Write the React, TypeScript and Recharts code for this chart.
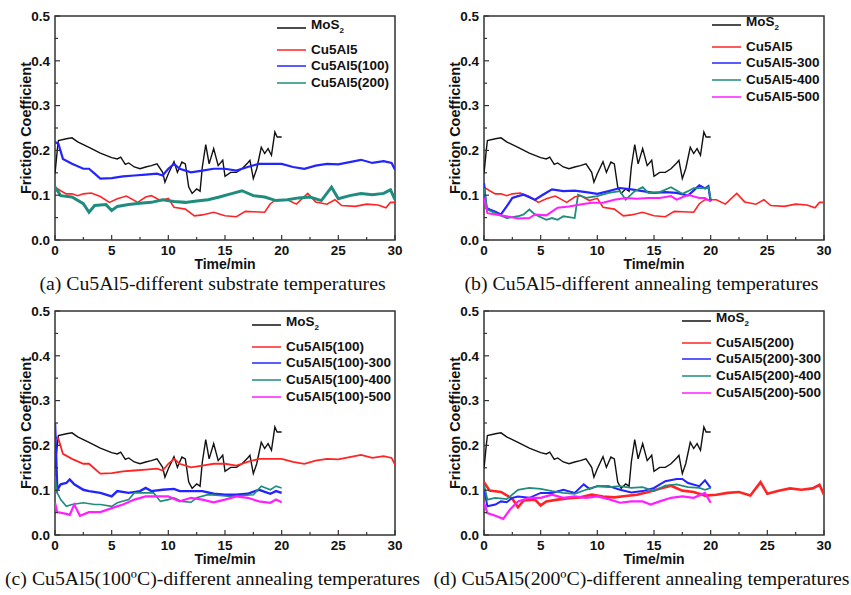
import React from "react";
import { LineChart, Line, XAxis, YAxis, ReferenceArea } from "recharts";

type Pt = [number, number];

// time (min), friction coefficient
const mos2: Pt[] = [
  [0, 0.148], [0.2, 0.2], [0.3, 0.222], [1, 0.226], [1.5, 0.228], [2, 0.219], [3, 0.207], [4, 0.194],
  [5, 0.184], [5.5, 0.181], [5.8, 0.185], [6.2, 0.169], [6.5, 0.172], [7, 0.163], [7.5, 0.159], [8, 0.163],
  [8.5, 0.166], [9, 0.17], [9.5, 0.151], [9.7, 0.129], [10, 0.148], [10.5, 0.175], [10.8, 0.151], [11.2, 0.174],
  [11.5, 0.17], [11.8, 0.118], [12.1, 0.104], [12.5, 0.114], [12.8, 0.109], [13, 0.163], [13.3, 0.213], [13.6, 0.17],
  [14, 0.204], [14.4, 0.166], [14.8, 0.178], [15, 0.142], [15.5, 0.151], [16, 0.151], [16.5, 0.159], [17, 0.172],
  [17.2, 0.178], [17.5, 0.137], [17.8, 0.159], [18.2, 0.207], [18.5, 0.193], [18.8, 0.204], [19.1, 0.189], [19.4, 0.241],
  [19.6, 0.23], [20, 0.23],
];

const cu5al5: Pt[] = [
  [0, 0.118], [0.5, 0.11], [1, 0.103], [1.5, 0.103], [2, 0.099], [2.5, 0.103], [3.2, 0.105], [4, 0.097],
  [4.8, 0.084], [5.5, 0.092], [6.3, 0.098], [7.3, 0.084], [8, 0.096], [8.5, 0.099], [9.3, 0.088], [10, 0.093],
  [10.5, 0.073], [11.5, 0.069], [12.3, 0.054], [13, 0.056], [14, 0.062], [15, 0.054], [16, 0.052], [16.8, 0.064],
  [17.5, 0.063], [18.5, 0.062], [19, 0.081], [19.5, 0.09], [20.5, 0.09], [21.3, 0.08], [22.3, 0.104], [23, 0.085],
  [24, 0.08], [24.7, 0.09], [25.3, 0.077], [26.5, 0.075], [27.5, 0.08], [28.5, 0.078], [29.2, 0.072], [29.6, 0.084],
  [30, 0.084],
];

const cu5al5_100: Pt[] = [
  [0, 0.219], [0.3, 0.215], [0.7, 0.181], [1.5, 0.17], [2.5, 0.159], [3, 0.159], [3.5, 0.148], [4, 0.137],
  [5, 0.138], [6, 0.142], [7, 0.144], [8, 0.146], [9, 0.148], [9.5, 0.144], [10, 0.159], [10.5, 0.17],
  [11, 0.159], [12, 0.151], [13, 0.155], [14, 0.159], [15, 0.159], [16, 0.155], [17, 0.163], [18, 0.17],
  [19, 0.17], [20, 0.17], [21, 0.163], [22, 0.159], [23, 0.166], [24, 0.17], [25, 0.169], [26, 0.174],
  [27, 0.179], [28, 0.172], [29, 0.176], [29.7, 0.172], [30, 0.157],
];

const cu5al5_200: Pt[] = [
  [0, 0.118], [0.5, 0.099], [1.5, 0.096], [2.5, 0.081], [3, 0.062], [3.5, 0.077], [4.5, 0.079], [5, 0.066],
  [5.5, 0.075], [6.5, 0.079], [7.5, 0.082], [8.5, 0.084], [9.5, 0.09], [10.5, 0.086], [11.5, 0.084], [12.5, 0.087],
  [13.5, 0.09], [14.5, 0.096], [15.5, 0.103], [16.5, 0.11], [17.5, 0.099], [18.5, 0.096], [19.5, 0.088], [20.5, 0.09],
  [21.5, 0.094], [22.5, 0.096], [23.5, 0.088], [24.4, 0.118], [25, 0.092], [26, 0.099], [27, 0.104], [28, 0.101],
  [29, 0.104], [29.6, 0.112], [30, 0.09],
];

const cu5al5_300: Pt[] = [
  [0, 0.127], [0.2, 0.072], [0.5, 0.068], [1, 0.063], [1.5, 0.057], [2, 0.075], [2.5, 0.094], [3, 0.098],
  [3.5, 0.101], [4.5, 0.09], [5.2, 0.101], [6, 0.113], [7, 0.109], [8, 0.11], [9, 0.107], [10, 0.103],
  [11, 0.109], [12, 0.116], [13, 0.113], [14, 0.109], [15, 0.105], [16, 0.107], [17, 0.105], [18, 0.099],
  [19, 0.122], [19.5, 0.115], [19.8, 0.12], [20, 0.086],
];

const cu5al5_400: Pt[] = [
  [0, 0.116], [0.3, 0.068], [1, 0.06], [2, 0.049], [3, 0.053], [3.5, 0.057], [4, 0.068], [4.5, 0.057],
  [5.5, 0.045], [6, 0.049], [6.5, 0.045], [7, 0.053], [7.5, 0.051], [8, 0.049], [8.3, 0.101], [9, 0.094],
  [10, 0.098], [11, 0.105], [12, 0.109], [12.5, 0.09], [13.3, 0.109], [14, 0.118], [14.5, 0.105], [15.5, 0.107],
  [16.5, 0.118], [17.5, 0.103], [18, 0.109], [18.5, 0.116], [19.5, 0.116], [19.8, 0.118], [20, 0.09],
];

const cu5al5_500: Pt[] = [
  [0, 0.094], [0.3, 0.06], [1, 0.057], [2, 0.053], [3, 0.048], [4, 0.049], [4.5, 0.057], [5.5, 0.055],
  [6.5, 0.072], [7.5, 0.075], [8.5, 0.079], [9.5, 0.083], [10.5, 0.083], [11.5, 0.09], [12.5, 0.094], [13.5, 0.092],
  [14.5, 0.094], [15.5, 0.094], [16.5, 0.098], [17, 0.09], [18, 0.101], [19, 0.094], [19.5, 0.094], [20, 0.086],
];

const c100_300: Pt[] = [
  [0, 0.25], [0.2, 0.101], [0.5, 0.113], [1, 0.116], [1.3, 0.124], [1.7, 0.113], [2.5, 0.101], [3, 0.098],
  [4, 0.094], [5, 0.086], [5.5, 0.098], [6.5, 0.094], [7.5, 0.098], [8, 0.105], [8.5, 0.098], [9.5, 0.101],
  [10.5, 0.103], [11, 0.098], [12, 0.098], [13, 0.098], [14, 0.092], [15, 0.09], [16, 0.09], [17, 0.092],
  [18, 0.101], [19, 0.092], [19.5, 0.098], [20, 0.094],
];

const c100_400: Pt[] = [
  [0, 0.131], [0.2, 0.094], [0.5, 0.079], [1, 0.064], [1.5, 0.068], [2.5, 0.072], [3.5, 0.068], [4, 0.068],
  [5, 0.064], [5.5, 0.072], [6.5, 0.079], [7, 0.094], [8, 0.094], [8.7, 0.094], [9.3, 0.075], [10, 0.079],
  [10.5, 0.083], [11.2, 0.075], [12, 0.073], [12.5, 0.083], [13.5, 0.09], [14.5, 0.088], [15.5, 0.086], [16.5, 0.088],
  [17.5, 0.09], [18.2, 0.109], [19, 0.101], [19.5, 0.109], [20, 0.105],
];

const c100_500: Pt[] = [
  [0, 0.072], [0.2, 0.051], [1, 0.047], [1.3, 0.045], [1.7, 0.068], [2.2, 0.043], [3, 0.051], [4, 0.051],
  [5, 0.06], [6, 0.068], [7, 0.079], [8, 0.086], [9, 0.086], [10, 0.086], [11, 0.075], [12, 0.083],
  [13, 0.079], [14, 0.073], [15, 0.079], [16, 0.086], [17, 0.083], [18, 0.075], [19, 0.072], [19.5, 0.079],
  [20, 0.073],
];

const c200_300: Pt[] = [
  [0, 0.105], [0.3, 0.064], [1, 0.068], [1.5, 0.075], [2, 0.073], [2.5, 0.083], [3, 0.086], [4, 0.083],
  [5, 0.094], [6, 0.094], [7, 0.101], [8, 0.094], [8.8, 0.113], [9.3, 0.103], [10, 0.109], [11, 0.109],
  [12, 0.101], [13, 0.095], [14, 0.098], [15, 0.105], [16, 0.12], [17, 0.125], [17.5, 0.125], [18, 0.116],
  [19, 0.109], [19.5, 0.122], [20, 0.105],
];

const c200_400: Pt[] = [
  [0, 0.113], [0.3, 0.079], [1, 0.083], [2, 0.08], [3, 0.101], [4, 0.105], [5, 0.103], [6, 0.098],
  [7, 0.094], [8, 0.092], [9, 0.101], [10, 0.109], [11, 0.107], [12, 0.109], [13, 0.105], [14, 0.107],
  [15, 0.098], [16, 0.11], [17, 0.113], [18, 0.107], [19, 0.105], [19.5, 0.101], [20, 0.105],
];

const c200_500: Pt[] = [
  [0, 0.072], [0.3, 0.049], [1, 0.043], [1.7, 0.036], [2.3, 0.057], [3, 0.075], [4, 0.083], [5, 0.083],
  [6, 0.09], [7, 0.083], [8, 0.086], [9, 0.083], [10, 0.086], [11, 0.08], [12, 0.072], [13, 0.075],
  [14, 0.075], [14.7, 0.068], [15.5, 0.075], [16.5, 0.083], [17.5, 0.086], [18.5, 0.083], [19.5, 0.094], [20, 0.072],
];

const xTicks = [0, 2.5, 5, 7.5, 10, 12.5, 15, 17.5, 20, 22.5, 25, 27.5, 30];
const xMajor = [0, 5, 10, 15, 20, 25, 30];
const yTicks = [0, 0.05, 0.1, 0.15, 0.2, 0.25, 0.3, 0.35, 0.4, 0.45, 0.5];
const yMajor = [0, 0.1, 0.2, 0.3, 0.4, 0.5];

const BLACK = "#111";
const RED = "#ff2424";
const BLUE = "#2424ff";
const TEAL = "#1f8c7e";
const MAGENTA = "#ff1fff";

type Series = { name: string; pts: Pt[]; color: string; w: number; sub?: boolean };

const panels = [
  {
    left: 0, top: 0, lx: 277, ly: 28,
    caption: "(a) Cu5Al5-different substrate temperatures",
    series: [
      { name: "MoS", sub: true, pts: mos2, color: BLACK, w: 1.4 },
      { name: "Cu5Al5", pts: cu5al5, color: RED, w: 1.6 },
      { name: "Cu5Al5(100)", pts: cu5al5_100, color: BLUE, w: 2.2 },
      { name: "Cu5Al5(200)", pts: cu5al5_200, color: TEAL, w: 3 },
    ],
  },
  {
    left: 429, top: 0, lx: 283, ly: 25,
    caption: "(b) Cu5Al5-different annealing temperatures",
    series: [
      { name: "MoS", sub: true, pts: mos2, color: BLACK, w: 1.4 },
      { name: "Cu5Al5", pts: cu5al5, color: RED, w: 1.6 },
      { name: "Cu5Al5-300", pts: cu5al5_300, color: BLUE, w: 2.2 },
      { name: "Cu5Al5-400", pts: cu5al5_400, color: TEAL, w: 1.8 },
      { name: "Cu5Al5-500", pts: cu5al5_500, color: MAGENTA, w: 2 },
    ],
  },
  {
    left: 0, top: 295, lx: 252, ly: 30,
    caption: "(c) Cu5Al5(100ºC)-different annealing temperatures",
    series: [
      { name: "MoS", sub: true, pts: mos2, color: BLACK, w: 1.4 },
      { name: "Cu5Al5(100)", pts: cu5al5_100, color: RED, w: 1.8 },
      { name: "Cu5Al5(100)-300", pts: c100_300, color: BLUE, w: 2.4 },
      { name: "Cu5Al5(100)-400", pts: c100_400, color: TEAL, w: 1.6 },
      { name: "Cu5Al5(100)-500", pts: c100_500, color: MAGENTA, w: 2.2 },
    ],
  },
  {
    left: 429, top: 295, lx: 253, ly: 26,
    caption: "(d) Cu5Al5(200ºC)-different annealing temperatures",
    series: [
      { name: "MoS", sub: true, pts: mos2, color: BLACK, w: 1.4 },
      { name: "Cu5Al5(200)", pts: cu5al5_200, color: RED, w: 2.6 },
      { name: "Cu5Al5(200)-300", pts: c200_300, color: BLUE, w: 2 },
      { name: "Cu5Al5(200)-400", pts: c200_400, color: TEAL, w: 1.8 },
      { name: "Cu5Al5(200)-500", pts: c200_500, color: MAGENTA, w: 2.2 },
    ],
  },
];

const SANS = "'Liberation Sans', Arial, sans-serif";
const M = 5; // tick margin
const AXIS = "#333";

function YTick(props: any) {
  const { x, y, payload } = props;
  const major = yMajor.includes(payload.value);
  const ax = x + M;
  return (
    <g>
      <line x1={ax} x2={ax + (major ? 5 : 3)} y1={y} y2={y} stroke={AXIS} strokeWidth={1.2} />
      {major && (
        <text x={x} y={y} dy="0.36em" textAnchor="end" fontSize={13.5} fontWeight="bold" fontFamily={SANS} fill="#111">
          {payload.value.toFixed(1)}
        </text>
      )}
    </g>
  );
}

function XTick(props: any) {
  const { x, y, payload } = props;
  const major = xMajor.includes(payload.value);
  const ay = y - M;
  return (
    <g>
      <line x1={x} x2={x} y1={ay} y2={ay - (major ? 5 : 3)} stroke={AXIS} strokeWidth={1.2} />
      {major && (
        <text x={x} y={y} dy="0.71em" textAnchor="middle" fontSize={13.5} fontWeight="bold" fontFamily={SANS} fill="#111">
          {payload.value}
        </text>
      )}
    </g>
  );
}

function Panel({ p }: { p: (typeof panels)[number] }) {
  return (
    <div style={{ position: "absolute", left: p.left, top: p.top, width: 425, height: 300 }}>
      <LineChart width={425} height={280} margin={{ top: 16, right: 30, bottom: 0, left: 0 }}>
        <XAxis
          dataKey="t"
          type="number"
          domain={[0, 30]}
          ticks={xTicks}
          interval={0}
          allowDataOverflow
          axisLine={false}
          tickLine={false}
          tickSize={0}
          tickMargin={M}
          height={40}
          tick={(tp: any) => <XTick {...tp} />}
          label={{ value: "Time/min", position: "insideBottom", offset: 11, fontSize: 14, fontWeight: "bold", fontFamily: SANS, fill: "#111" }}
        />
        <YAxis
          type="number"
          domain={[0, 0.5]}
          ticks={yTicks}
          interval={0}
          allowDataOverflow
          axisLine={false}
          tickLine={false}
          tickSize={0}
          tickMargin={M}
          width={55}
          tick={(tp: any) => <YTick {...tp} />}
          label={{ value: "Friction Coefficient", angle: -90, position: "center", dx: -2, fontSize: 14.5, fontWeight: "bold", fontFamily: SANS, fill: "#111" }}
        />
        {p.series.map((s: Series) => (
          <Line
            key={s.name + s.color}
            data={s.pts.map(([t, v]) => ({ t, v }))}
            dataKey="v"
            type="linear"
            stroke={s.color}
            strokeWidth={s.w}
            dot={false}
            activeDot={false}
            isAnimationActive={false}
          />
        ))}
        <ReferenceArea x1={0} x2={30} y1={0} y2={0.5} fill="none" stroke={AXIS} strokeWidth={1.5} ifOverflow="visible" />
      </LineChart>
      {p.series.map((s: Series, i: number) => {
        const cy = p.ly + (i === 0 ? 0 : 21.5 + (i - 1) * 16.8);
        return (
          <div
            key={i}
            style={{
              position: "absolute", left: p.lx, top: cy - 9, height: 18, display: "flex", alignItems: "center",
              fontFamily: SANS, fontWeight: "bold", fontSize: 13.5, color: "#111", whiteSpace: "nowrap",
            }}
          >
            <svg width={29} height={4} style={{ display: "block" }}>
              <line x1={0} x2={29} y1={2} y2={2} stroke={s.color} strokeWidth={1.5} />
            </svg>
            <span style={{ marginLeft: 5, lineHeight: "18px" }}>
              {s.name}
              {s.sub && <sub style={{ fontSize: 8, verticalAlign: "-4px" }}>2</sub>}
            </span>
          </div>
        );
      })}
      <div
        style={{
          position: "absolute", left: 0, top: 271, width: 425, textAlign: "center",
          fontFamily: "'Liberation Serif', 'Times New Roman', serif", fontSize: 19.8, lineHeight: "24px", color: "#111",
          whiteSpace: "nowrap",
        }}
      >
        {p.caption}
      </div>
    </div>
  );
}

export default function App() {
  return (
    <div style={{ position: "absolute", left: 0, top: 0, width: 851, height: 595, background: "#fff", overflow: "hidden" }}>
      {panels.map((p, i) => (
        <Panel key={i} p={p} />
      ))}
    </div>
  );
}
